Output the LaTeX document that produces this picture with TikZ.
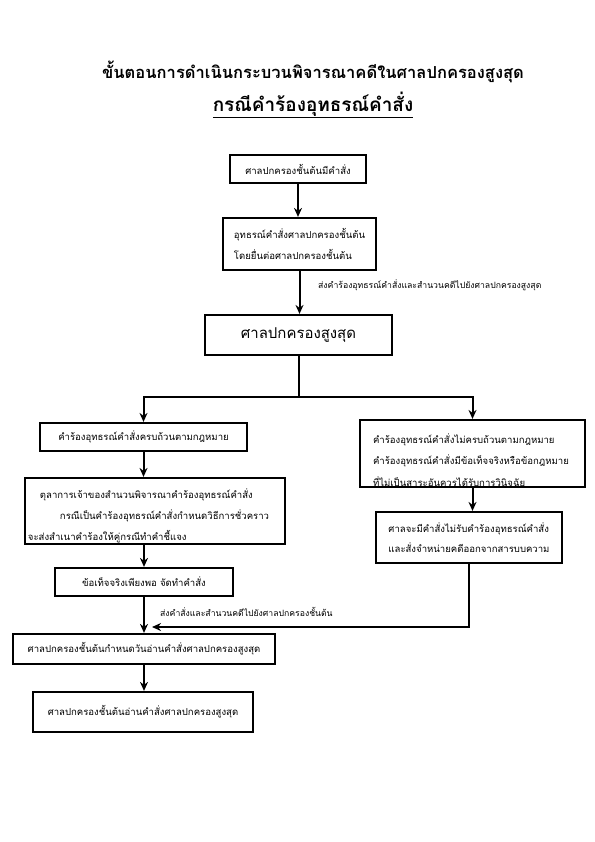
\documentclass[tikz,border=0pt]{standalone}
\usepackage{fontspec}
\newfontfamily\thai[Script=Thai]{Loma}
\usetikzlibrary{arrows.meta}
\begin{document}
\begin{tikzpicture}[x=1bp,y=-1bp,
 box/.style={draw,line width=2.2bp,font=\thai\fontsize{9.6}{20.5}\selectfont,inner sep=0pt,align=left},
 txt/.style={inner sep=0pt,align=left},
 arr/.style={line width=2bp,-{Stealth[length=9bp,width=8bp]}},
 ln/.style={line width=2bp},
 lbl/.style={font=\thai\fontsize{8.7}{10}\selectfont,inner sep=0pt}]
\useasboundingbox (0,0) rectangle (595,842);
\node[font=\thai\bfseries\fontsize{16.6}{20}\selectfont] (t1) at (313,72) {ขั้นตอนการดำเนินกระบวนพิจารณาคดีในศาลปกครองสูงสุด};
\node[font=\thai\bfseries\fontsize{19}{22}\selectfont] (t2) at (313,105) {\underline{กรณีคำร้องอุทธรณ์คำสั่ง}};

\node[box,minimum width=136bp,minimum height=28bp] (b1) at (298,169) {ศาลปกครองชั้นต้นมีคำสั่ง};
\node[box,minimum width=153bp,minimum height=52bp] (b2) at (299.5,244) {อุทธรณ์คำสั่งศาลปกครองชั้นต้น\\โดยยื่นต่อศาลปกครองชั้นต้น};
\node[box,minimum width=187bp,minimum height=40bp,font=\thai\fontsize{15}{17}\selectfont] (b3) at (298.5,335) {ศาลปกครองสูงสุด};
\node[box,minimum width=207bp,minimum height=28bp] (b4) at (143.5,437) {คำร้องอุทธรณ์คำสั่งครบถ้วนตามกฎหมาย};

\begin{scope}
\clip (361.1,421.1) rectangle (583.9,485.9);
\node[txt,text width=205bp,font=\thai\fontsize{9.6}{21.5}\selectfont] (rb1t) at (475.5,460) {คำร้องอุทธรณ์คำสั่งไม่ครบถ้วนตามกฎหมาย\\คำร้องอุทธรณ์คำสั่งมีข้อเท็จจริงหรือข้อกฎหมาย\\ที่ไม่เป็นสาระอันควรได้รับการวินิจฉัย};
\end{scope}
\node[box,minimum width=225bp,minimum height=67bp] (rb1) at (472.5,453.5) {};

\node[box,minimum width=260bp,minimum height=66bp] (b5) at (155,511) {};
\node[txt,text width=254bp,font=\thai\fontsize{9.6}{21}\selectfont] (b5t) at (155,515.5) {\hspace*{12bp}ตุลาการเจ้าของสำนวนพิจารณาคำร้องอุทธรณ์คำสั่ง\\\hspace*{32bp}กรณีเป็นคำร้องอุทธรณ์คำสั่งกำหนดวิธีการชั่วคราว\\จะส่งสำเนาคำร้องให้คู่กรณีทำคำชี้แจง};
\node[box,minimum width=186bp,minimum height=51bp] (rb2) at (469,537.5) {ศาลจะมีคำสั่งไม่รับคำร้องอุทธรณ์คำสั่ง\\และสั่งจำหน่ายคดีออกจากสารบบความ};
\node[box,minimum width=178bp,minimum height=28bp] (b6) at (144,582) {ข้อเท็จจริงเพียงพอ จัดทำคำสั่ง};
\node[box,minimum width=262bp,minimum height=30bp] (b7) at (144,649) {ศาลปกครองชั้นต้นกำหนดวันอ่านคำสั่งศาลปกครองสูงสุด};
\node[box,minimum width=220bp,minimum height=40bp] (b8) at (143,712) {ศาลปกครองชั้นต้นอ่านคำสั่งศาลปกครองสูงสุด};

\node[lbl,anchor=west] (l1) at (318,285) {ส่งคำร้องอุทธรณ์คำสั่งและสำนวนคดีไปยังศาลปกครองสูงสุด};
\node[lbl,anchor=west] (l2) at (160,612) {ส่งคำสั่งและสำนวนคดีไปยังศาลปกครองชั้นต้น};

\coordinate (j) at (300,397);
\coordinate (m) at (152,627);
\draw[arr] (b1.south) -- (b1.south |- b2.north);
\draw[arr] (b2.south) -- (b2.south |- b3.north);
\draw[ln] (b3.south) -- (b3.south |- j);
\draw[arr] (b3.south |- j) -| (b4.north);
\draw[arr] (b3.south |- j) -| (rb1.north);
\draw[arr] (b4.south) -- (b4.south |- b5.north);
\draw[arr] (b6.north |- b5.south) -- (b6.north);
\draw[arr] (b6.south) -- (b6.south |- b7.north);
\draw[arr] (rb1.south) -- (rb1.south |- rb2.north);
\draw[arr] (rb2.south) |- (m);
\draw[arr] (b7.south) -- (b7.south |- b8.north);
\end{tikzpicture}
\end{document}
